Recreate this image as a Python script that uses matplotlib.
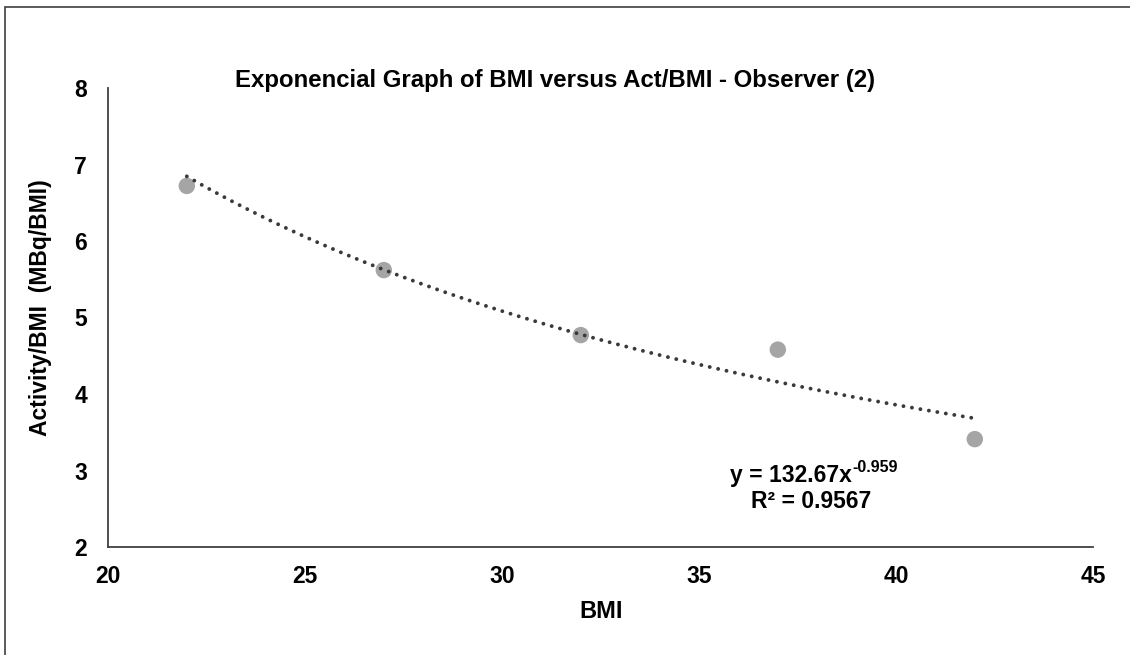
import matplotlib
matplotlib.use("Agg")
import matplotlib.pyplot as plt
import numpy as np
from matplotlib.patches import Rectangle

bmi = [22, 27, 32, 37, 42]
act_per_bmi = [6.72, 5.62, 4.77, 4.58, 3.41]
coef_a = 132.67
coef_b = -0.959
r2 = 0.9567
x_ticks = [20, 25, 30, 35, 40, 45]
y_ticks = [2, 3, 4, 5, 6, 7, 8]

plt.rcParams['font.family'] = ['Liberation Sans', 'DejaVu Sans']
plt.rcParams['font.weight'] = 'bold'

W, H = 1130, 655
fig = plt.figure(figsize=(W/100, H/100), dpi=100)
ax = fig.add_axes([108/W, 1-547/H, (1093-108)/W, (547-88)/H])

xs = np.linspace(min(bmi), max(bmi), 200)
ax.plot(xs, coef_a*xs**coef_b, color='#3A3A3A', lw=2.8,
        linestyle=(0, (0.01, 2.2)), dash_capstyle='round', zorder=3)
ax.scatter(bmi, act_per_bmi, s=140, color='#A5A5A5', edgecolors='none', zorder=2)

ax.set_xlim(20, 45)
ax.set_ylim(2, 8)
ax.set_xticks(x_ticks)
ax.set_yticks(y_ticks)
ax.tick_params(length=0, labelsize=16.5)
ax.tick_params(axis='x', pad=13)
ax.tick_params(axis='y', pad=15)
for lab in ax.get_xticklabels() + ax.get_yticklabels():
    lab.set_fontweight('bold')
for s in ['top', 'right']:
    ax.spines[s].set_visible(False)
for s in ['left', 'bottom']:
    ax.spines[s].set_color('#404040')
    ax.spines[s].set_linewidth(1.3)

fig.text(555/W, 1-80/H, 'Exponencial Graph of BMI versus Act/BMI - Observer (2)',
         ha='center', va='center', fontsize=17.3, fontweight='bold')
fig.text(601/W, 1-612/H, 'BMI', ha='center', va='center', fontsize=17, fontweight='bold')
fig.text(41/W, 1-308/H, 'Activity/BMI  (MBq/BMI)', ha='center', va='center',
         rotation=90, fontsize=16.5, fontweight='bold')

base = fig.text(852/W, 1-482/H, 'y = 132.67x', ha='right', va='baseline',
                fontsize=16.5, fontweight='bold')
fig.text(852/W, 1-472/H, '%.3f' % coef_b, ha='left', va='baseline',
         fontsize=11.5, fontweight='bold')
fig.text(811/W, 1-502/H, 'R² = %.4f' % r2,
         ha='center', va='center', fontsize=16.5, fontweight='bold')

fig.patches.append(Rectangle((5/W, -0.1), 1.2, 1-7/H+0.1, transform=fig.transFigure,
                             fill=False, edgecolor='#404040', lw=1.2))

fig.savefig('out.png', dpi=100, facecolor='white')
